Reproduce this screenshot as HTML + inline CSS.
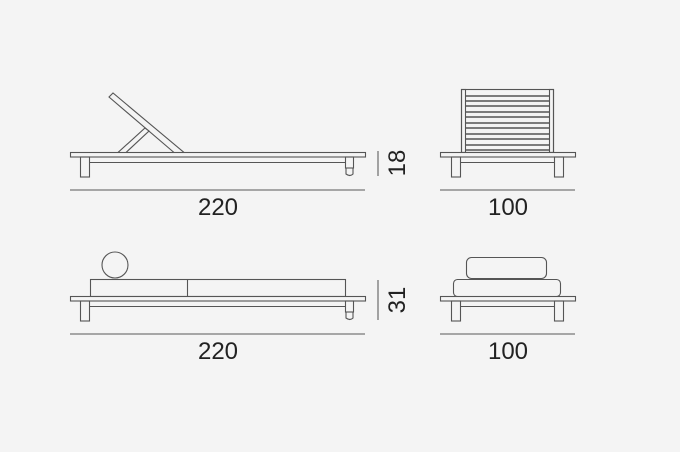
<!DOCTYPE html>
<html><head><meta charset="utf-8"><style>
html,body{margin:0;padding:0;background:#f4f4f4;}
svg{display:block;}
text{font-family:"Liberation Sans",sans-serif;fill:#222;font-size:24px;}
</style></head><body>
<svg width="680" height="452" viewBox="0 0 680 452" xmlns="http://www.w3.org/2000/svg">
<rect width="680" height="452" fill="#f4f4f4"/>
<g fill="none" stroke="#555" stroke-width="1.1">
<!-- top left -->
<polygon points="109,97 113,93 184,152.5 174,152.5" fill="#f4f4f4"/>
<polygon points="118,152.5 126,152.5 149,131 145,128" fill="#f4f4f4"/>
<rect x="70.5" y="152.5" width="295" height="4.5" fill="#f4f4f4"/>
<line x1="90" y1="162.5" x2="345" y2="162.5"/>
<rect x="80.5" y="157" width="9" height="20"/>
<rect x="345.5" y="157" width="8" height="11"/>
<path d="M346,168 v6 q4,3 7,0 v-6"/>
<!-- top right -->
<rect x="461.5" y="89.5" width="92" height="63"/>
<rect x="461.5" y="89.5" width="4" height="63"/>
<rect x="549.5" y="89.5" width="4" height="63"/>
<g stroke-width="1.6">
<line x1="465" y1="96" x2="550" y2="96"/><line x1="465" y1="101" x2="550" y2="101"/>
<line x1="465" y1="106" x2="550" y2="106"/><line x1="465" y1="112" x2="550" y2="112"/>
<line x1="465" y1="117" x2="550" y2="117"/><line x1="465" y1="123" x2="550" y2="123"/>
<line x1="465" y1="128" x2="550" y2="128"/><line x1="465" y1="134" x2="550" y2="134"/>
<line x1="465" y1="139" x2="550" y2="139"/><line x1="465" y1="145" x2="550" y2="145"/>
<line x1="465" y1="150" x2="550" y2="150"/>
</g>
<rect x="440.5" y="152.5" width="135" height="4.5" fill="#f4f4f4"/>
<line x1="461" y1="162.5" x2="554" y2="162.5"/>
<rect x="451.5" y="157" width="9" height="20"/>
<rect x="554.5" y="157" width="9" height="20"/>
<!-- bottom left -->
<circle cx="115" cy="265" r="13"/>
<rect x="90.5" y="279.5" width="255" height="17"/>
<line x1="187.5" y1="279.5" x2="187.5" y2="296.5"/>
<rect x="70.5" y="296.5" width="295" height="4.5" fill="#f4f4f4"/>
<line x1="90" y1="306.5" x2="345" y2="306.5"/>
<rect x="80.5" y="301" width="9" height="20"/>
<rect x="345.5" y="301" width="8" height="11"/>
<path d="M346,312 v6 q4,3 7,0 v-6"/>
<!-- bottom right -->
<rect x="466.5" y="257.5" width="80" height="21" rx="5"/>
<rect x="453.5" y="279.5" width="107" height="17" rx="4"/>
<rect x="440.5" y="296.5" width="135" height="4.5" fill="#f4f4f4"/>
<line x1="461" y1="306.5" x2="554" y2="306.5"/>
<rect x="451.5" y="301" width="9" height="20"/>
<rect x="554.5" y="301" width="9" height="20"/>
</g>
<g stroke="#777" stroke-width="1.3">
<line x1="70" y1="190" x2="365" y2="190"/>
<line x1="440" y1="190" x2="575" y2="190"/>
<line x1="70" y1="334" x2="365" y2="334"/>
<line x1="440" y1="334" x2="575" y2="334"/>
<line x1="378" y1="151" x2="378" y2="176"/>
<line x1="378" y1="280" x2="378" y2="320"/>
</g>
<text x="218" y="215" text-anchor="middle">220</text>
<text x="508" y="215" text-anchor="middle">100</text>
<text x="218" y="359" text-anchor="middle">220</text>
<text x="508" y="359" text-anchor="middle">100</text>
<text transform="translate(405,163) rotate(-90)" text-anchor="middle">18</text>
<text transform="translate(405,300) rotate(-90)" text-anchor="middle">31</text>
</svg>
</body></html>
